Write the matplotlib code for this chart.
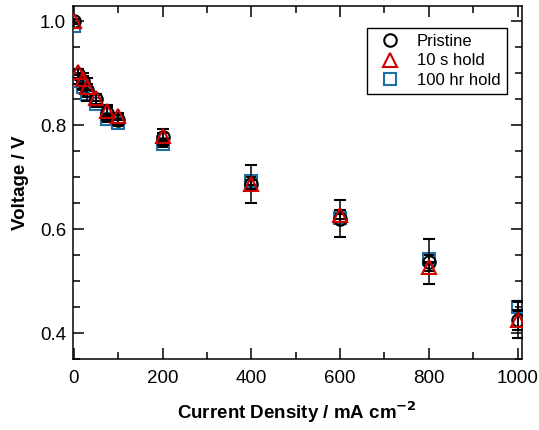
import matplotlib
matplotlib.use('Agg')
import matplotlib.pyplot as plt
from matplotlib.ticker import MultipleLocator

plt.rcParams['font.family'] = ['Liberation Sans', 'DejaVu Sans']

# Данные
current = [0, 10, 20, 30, 50, 75, 100, 200, 400, 600, 800, 1000]
v_pristine = [1.000, 0.898, 0.885, 0.868, 0.850, 0.824, 0.810, 0.777, 0.687, 0.620, 0.537, 0.426]
err_pristine = [0.005, 0.010, 0.015, 0.022, 0.010, 0.015, 0.010, 0.015, 0.036, 0.036, 0.043, 0.036]
v_10s = [1.000, 0.902, 0.888, 0.873, 0.852, 0.828, 0.818, 0.779, 0.686, 0.628, 0.528, 0.425]
err_10s = [0.004, 0.006, 0.006, 0.006, 0.006, 0.006, 0.006, 0.006, 0.008, 0.008, 0.008, 0.020]
v_100hr = [0.990, 0.885, 0.874, 0.860, 0.840, 0.812, 0.804, 0.764, 0.692, 0.622, 0.542, 0.450]
err_100hr = [0.004, 0.006, 0.006, 0.006, 0.006, 0.006, 0.006, 0.006, 0.008, 0.008, 0.008, 0.010]

blue = '#1f6fa5'
red = '#d00000'

fig = plt.figure(figsize=(5.39, 4.30), dpi=100)
ax = fig.add_axes([0.1354, 0.165, 0.833, 0.822])

ebkw = dict(ecolor='black', elinewidth=1.1, capsize=4, capthick=1.1, linestyle='none')
ax.errorbar(current, v_100hr, yerr=err_100hr, fmt='s', ms=9, mfc='none', mec=blue, mew=1.5,
            label='100 hr hold', zorder=3, **ebkw)
ax.errorbar(current, v_pristine, yerr=err_pristine, fmt='o', ms=9, mfc='none', mec='black', mew=1.5,
            label='Pristine', zorder=4, **ebkw)
ax.errorbar(current, v_10s, yerr=err_10s, fmt='^', ms=10, mfc='none', mec=red, mew=1.5,
            label='10 s hold', zorder=5, **ebkw)

ax.set_xlim(-2, 1010)
ax.set_ylim(0.35, 1.03)
ax.xaxis.set_major_locator(MultipleLocator(200))
ax.xaxis.set_minor_locator(MultipleLocator(100))
ax.yaxis.set_major_locator(MultipleLocator(0.2))
ax.yaxis.set_minor_locator(MultipleLocator(0.05))
ax.tick_params(which='both', direction='in', top=True, right=True, width=1.1, labelsize=13.5)
ax.tick_params(which='major', length=8)
ax.tick_params(axis='x', which='major', pad=8)
ax.tick_params(axis='y', which='major', pad=5)
ax.tick_params(which='minor', length=5)
for s in ax.spines.values():
    s.set_linewidth(1.1)

ax.set_xlabel('Current Density / mA cm$^{\\mathbf{-2}}$', fontsize=13.5, fontweight='bold', labelpad=9)
ax.set_ylabel('Voltage / V', fontsize=13.5, fontweight='bold', labelpad=8)

h, l = ax.get_legend_handles_labels()
order = [1, 2, 0]
h = [h[i][0] for i in order]
l = [l[i] for i in order]
leg = ax.legend(h, l, loc='upper right', bbox_to_anchor=(0.967, 0.938), borderaxespad=0,
                fontsize=12, frameon=True, fancybox=False, edgecolor='black', framealpha=1,
                handletextpad=0.6, borderpad=0.4, labelspacing=0.25)
leg.get_frame().set_linewidth(1.0)

fig.savefig('out.png', dpi=100)
